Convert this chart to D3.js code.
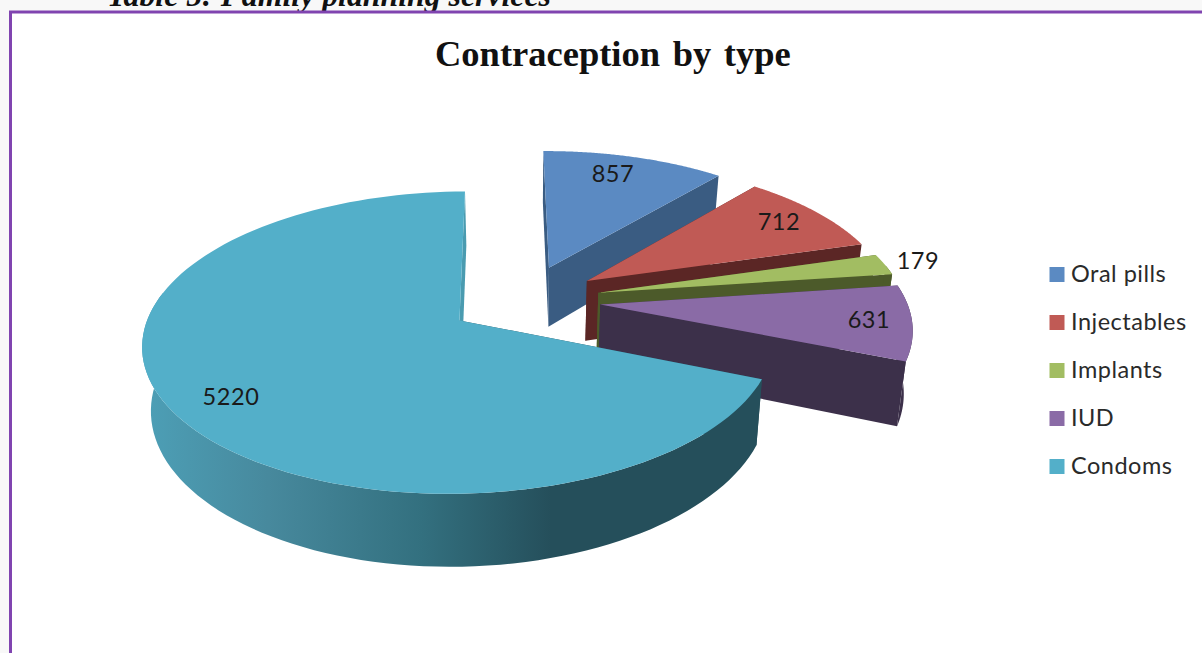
<!DOCTYPE html>
<html><head><meta charset="utf-8">
<script src="https://cdn.jsdelivr.net/npm/d3@7/dist/d3.min.js"></script>
<style>html,body{margin:0;padding:0;background:#f8f8f8;overflow:hidden}svg{display:block}</style>
</head><body><svg id="c" width="1202" height="653"></svg>
<script>
const categories = ["Oral pills","Injectables","Implants","IUD","Condoms"];
const values = [857,712,179,631,5220];
const topColors = ["#5b8ac2","#c05a55","#a2bd62","#8a6ba6","#53afc9"];
const wallColors = ["#3a5c82","#5b2625","#4c5a2a","#3c304a","#264e59"];
const chartTitle = "Contraception by type";
const captionText = "Table 5: Family planning services";

const W=1202,H=653;
const svg=d3.select("#c");
const ax=524, ay=300, rx=306, ry=142, persp=.144, explode=.25, depth=61, shrink=.977, rot=-0.01;

svg.append("text").attr("x",107).attr("y",6).attr("font-family","Liberation Serif").attr("font-weight","bold").attr("font-style","italic").attr("font-size",31.8).attr("fill","#111").text(captionText);
svg.append("rect").attr("x",10.5).attr("y",12).attr("width",W+20).attr("height",H+20).attr("fill","#fff").attr("stroke","#8044b0").attr("stroke-width",3);

svg.append("text").attr("x",435).attr("y",66).attr("font-family","Liberation Serif").attr("font-weight","bold").attr("font-size",36.5).attr("word-spacing",3.5).attr("fill","#111").text(chartTitle);

const defs=svg.append("defs");
const grad=defs.append("linearGradient").attr("id","wallGrad").attr("gradientUnits","userSpaceOnUse").attr("x1",145).attr("x2",760).attr("y1",0).attr("y2",0);
[[0,"#4d9fb6"],[.2,"#47899d"],[.45,"#33707f"],[.66,"#254f5b"],[1,"#254f5b"]].forEach(s=>grad.append("stop").attr("offset",s[0]).attr("stop-color",s[1]));

const arcs=d3.pie().sort(null).startAngle(rot).endAngle(2*Math.PI+rot).value(d=>d)(values);

function project(u,v,low){
  const s=1/(1+persp*v);
  let x=rx*u*s, y=ay-ry*v*s;
  if(low){x*=shrink;y+=depth*s;}
  return [ax+x,y];
}
const poly=d3.line().curve(d3.curveLinearClosed);

arcs.forEach((a,i)=>{
  const mid=(a.startAngle+a.endAngle)/2;
  const ou=explode*Math.sin(mid), ov=explode*Math.cos(mid);
  const at=(t,r)=>[ou+r*Math.sin(t),ov+r*Math.cos(t)];
  const angles=d3.range(0,121).map(k=>a.startAngle+(a.endAngle-a.startAngle)*k/120);
  const top=angles.map(t=>project(...at(t,1),false));
  const front=angles.filter(t=>Math.cos(t)<0.2);
  const cT=project(ou,ov,false), cB=project(ou,ov,true);
  const g=svg.append("g").attr("class","slice");
  const last=top.length-1;
  g.append("path").attr("d",poly([cT,top[0],project(...at(a.startAngle,1),true),cB])).attr("fill",wallColors[i]);
  g.append("path").attr("d",poly([cT,top[last],project(...at(a.endAngle,1),true),cB])).attr("fill",i===4?"#4a9bb0":wallColors[i]);
  if(front.length>1){
    const ft=front.map(t=>project(...at(t,1),false));
    const fb=front.map(t=>project(...at(t,1),true)).reverse();
    g.append("path").attr("d",poly(ft.concat(fb))).attr("fill",i===4?"url(#wallGrad)":wallColors[i]);
  }
  g.append("path").attr("d",poly([cT].concat(top))).attr("fill",topColors[i]);
});

const labelPos=[[613,174],[779,222],[918,261],[869,320],[231,397]];
values.forEach((v,i)=>{
  svg.append("text").attr("x",labelPos[i][0]).attr("y",labelPos[i][1]+8).attr("text-anchor","middle").attr("font-family","Lato").attr("font-size",23.5).attr("letter-spacing",.6).attr("fill","#1a1a1a").text(v);
});

const ly=d3.scalePoint().domain(categories).range([274,466]);
categories.forEach((c,i)=>{
  svg.append("rect").attr("x",1049.5).attr("y",ly(c)-7).attr("width",15).attr("height",15).attr("fill",topColors[i]);
  svg.append("text").attr("x",1071).attr("y",ly(c)+8).attr("font-family","Lato").attr("font-size",23.5).attr("letter-spacing",.5).attr("fill","#2a2a2a").text(c);
});
</script></body></html>
